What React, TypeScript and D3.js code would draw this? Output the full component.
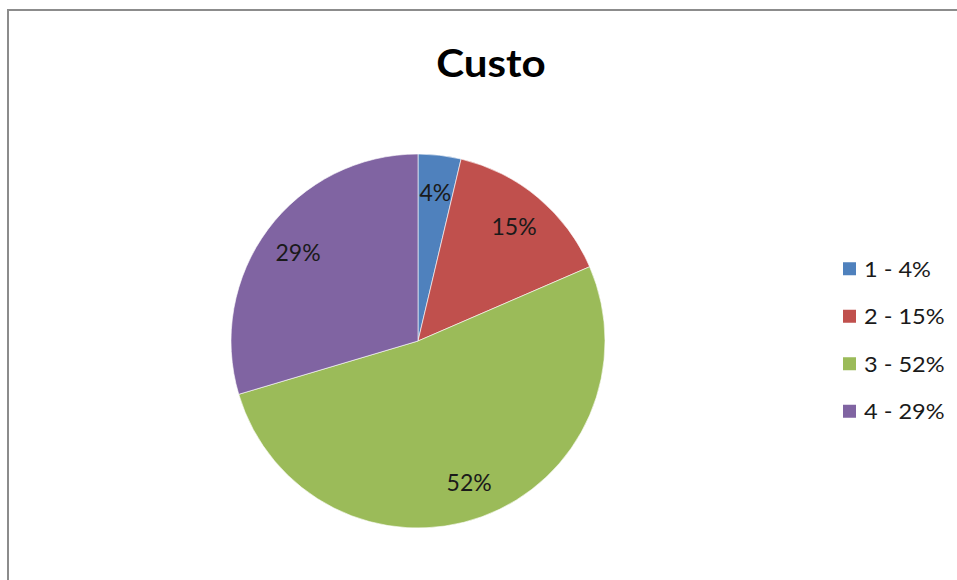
import React from "react";
import * as d3 from "d3";

const categories = ["1", "2", "3", "4"];
const values = [3.7, 14.8, 51.9, 29.6];
const labels = ["4%", "15%", "52%", "29%"];
const legendLabels = ["1 - 4%", "2 - 15%", "3 - 52%", "4 - 29%"];
const colors = ["#4F81BD", "#C0504D", "#9BBB59", "#8064A2"];

const W = 957;
const H = 580;
const cx = 418;
const cy = 341;
const R = 187;
const FONT = "Lato, 'Open Sans', 'DejaVu Sans', sans-serif";

export default function App() {
  const pie = d3.pie<number>().sort(null).value((d) => d)(values);
  const arc = d3.arc<d3.PieArcDatum<number>>().innerRadius(0).outerRadius(R);
  const labelArc = d3.arc<d3.PieArcDatum<number>>().innerRadius(R * 0.6).outerRadius(R);
  const legendY = d3.scaleBand<string>().domain(categories).range([245, 435]);

  return (
    <svg width={W} height={H} style={{ position: "absolute", left: 0, top: 0, display: "block" }}>
      <rect x={0} y={0} width={W} height={H} fill="#fff" />
      <rect x={8} y={10} width={W + 20} height={H + 20} fill="#fff" stroke="#8c8c8c" strokeWidth={2} />
      <g transform="translate(491,77) scale(1.08,1)">
        <text x={0} y={0} textAnchor="middle" fontFamily={FONT} fontWeight="bold" fontSize={39} fill="#000">
          Custo
        </text>
      </g>
      <g transform={`translate(${cx},${cy})`}>
        {pie.map((p, i) => (
          <path key={i} d={arc(p) || ""} fill={colors[i]} stroke="#ffffff" strokeOpacity={0.6} strokeWidth={1} />
        ))}
        {pie.map((p, i) => {
          const [lx, ly] = labelArc.centroid(p);
          return (
            <text key={i} x={lx} y={ly} textAnchor="middle" dominantBaseline="central" fontFamily={FONT} fontSize={23} fill="#1a1a1a">
              {labels[i]}
            </text>
          );
        })}
      </g>
      {categories.map((c, i) => {
        const y = (legendY(c) || 0) + legendY.bandwidth() / 2;
        return (
          <g key={c}>
            <rect x={843} y={y - 6.5} width={13} height={13} fill={colors[i]} />
            <g transform={`translate(864,${y}) scale(1.07,1)`}>
              <text x={0} y={0} dominantBaseline="central" fontFamily={FONT} fontSize={22} fill="#1a1a1a">
                {legendLabels[i]}
              </text>
            </g>
          </g>
        );
      })}
    </svg>
  );
}
